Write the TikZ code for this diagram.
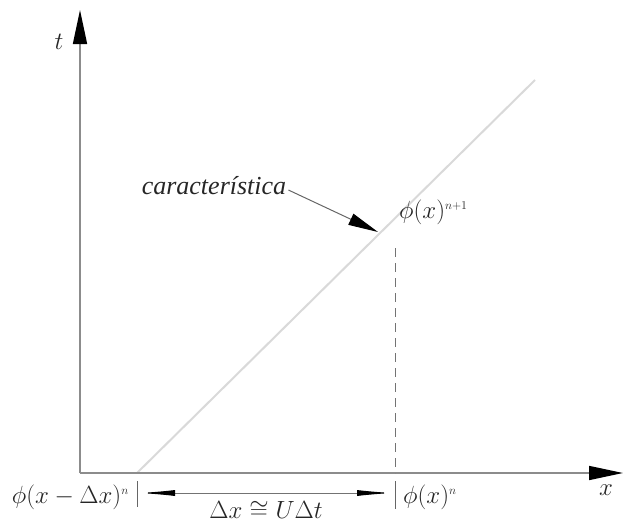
\documentclass[tikz,border=0pt]{standalone}
\usepackage{fontspec}
\setmainfont{Liberation Serif}
\usetikzlibrary{arrows.meta}
\begin{document}
\begin{tikzpicture}[x=1pt,y=-1pt,
  axis/.style={draw=black!45,line width=1.6pt,-{Triangle[length=34pt,width=14pt,color=black]}},
  charline/.style={draw=black!15,line width=2pt},
  dimline/.style={draw=black!55,line width=1pt,{Latex[length=36pt,width=6pt,color=black]}-{Latex[length=36pt,width=6pt,color=black]}},
  tick/.style={draw=black!60,line width=1pt},
  lbl/.style={inner sep=0pt,text=black!85,font=\fontsize{23}{25}\selectfont},
  pointer/.style={draw=black!60,line width=1pt,-{Triangle[length=30pt,width=12pt,color=black]}}]
\useasboundingbox (0,0) rectangle (624,522);
\coordinate (O) at (80,473);
\coordinate (T) at (80,10);
\coordinate (X) at (623,473);
\coordinate (A) at (137,473);
\coordinate (B) at (395,473);
\coordinate (C) at (535,80);
\coordinate (P) at (395,248);
\draw[charline] (A) -- (C);
\draw[axis] (O) -- (T);
\draw[axis] (O) -- (X);
\draw[draw=black!55,line width=1pt,dash pattern=on 9pt off 6pt] (P) -- (B);
\coordinate (A1) at (137,481);
\coordinate (A2) at (137,507);
\coordinate (B1) at (395,481);
\coordinate (B2) at (395,509);
\draw[tick] (A1) -- (A2);
\draw[tick] (B1) -- (B2);
\coordinate (D1) at (139,493);
\coordinate (D2) at (393,493);
\draw[dimline] (D1) -- (D2);
\node[lbl,anchor=center] (tl) at (59,42) {$t$};
\node[lbl,anchor=center] (xl) at (606,490) {$x$};
\node[lbl,anchor=center,font=\fontsize{26}{28}\selectfont] (cl) at (214,186) {\textit{característica}};
\coordinate (PE) at (378,232);
\draw[pointer] (cl.east) ++(2,4) -- (PE);
\node[lbl,anchor=west] (pn1) at (399,212) {$\phi(x)^{\scriptscriptstyle n+1}$};
\node[lbl,anchor=east] (pl) at (129,497) {$\phi(x-\Delta x)^{\scriptscriptstyle n}$};
\node[lbl,anchor=west] (pr) at (403,497) {$\phi(x)^{\scriptscriptstyle n}$};
\node[lbl,anchor=center] (dl) at (266,510) {$\Delta x\cong U\Delta t$};
\end{tikzpicture}
\end{document}
